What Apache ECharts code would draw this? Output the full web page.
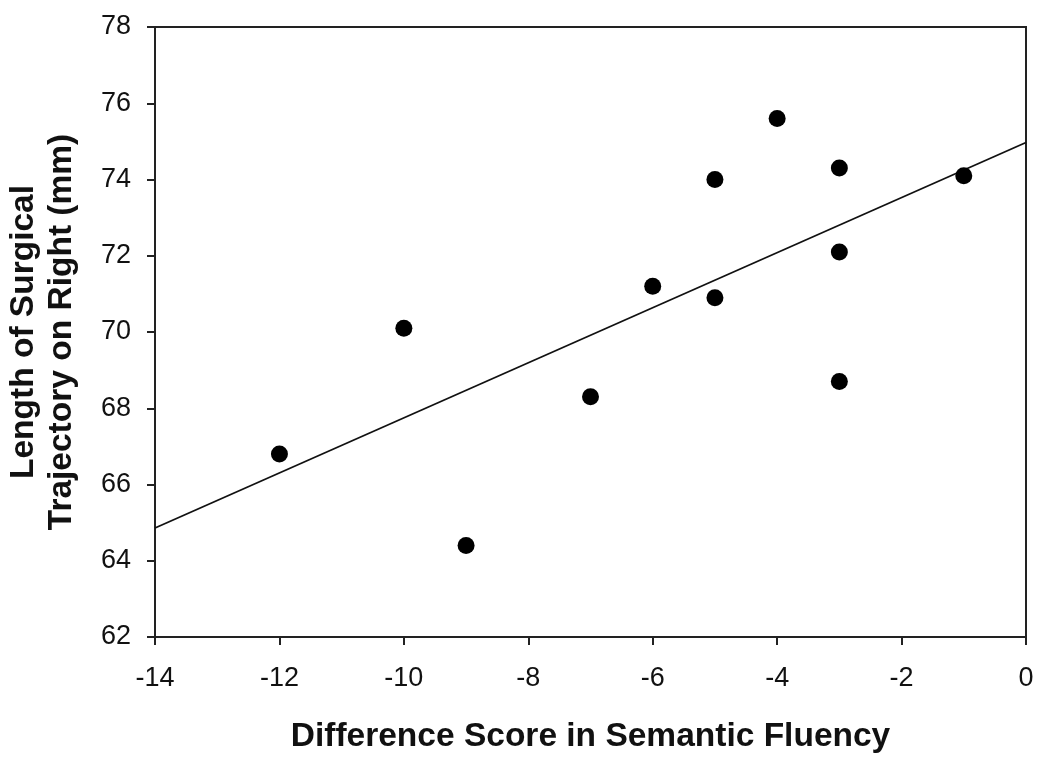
<!DOCTYPE html>
<html>
<head>
<meta charset="utf-8">
<script src="https://cdn.jsdelivr.net/npm/echarts@6/dist/echarts.min.js"></script>
<style>
html,body{margin:0;padding:0;background:#fff;}
#chart{width:1050px;height:757px;}
</style>
</head>
<body>
<div id="chart"></div>
<script>
// Data
const xValues = [-12, -10, -9, -7, -6, -5, -5, -4, -3, -3, -3, -1];
const yValues = [66.8, 70.1, 64.4, 68.3, 71.2, 74.0, 70.9, 75.6, 74.3, 72.1, 68.7, 74.1];
const fitLineX = [-14, 0];
const fitLineY = [64.86, 74.97];
const xTitle = 'Difference Score in Semantic Fluency';
const yTitle = 'Length of Surgical\nTrajectory on Right (mm)';

const points = xValues.map((x, i) => [x, yValues[i]]);
const fit = fitLineX.map((x, i) => [x, fitLineY[i]]);

const chart = echarts.init(document.getElementById('chart'));
const axisFont = 'Liberation Sans, Arial, sans-serif';
chart.setOption({
  backgroundColor: '#ffffff',
  animation: false,
  grid: { left: 155, top: 27, right: 24, bottom: 120, show: true, borderColor: '#222', borderWidth: 2, backgroundColor: 'transparent', containLabel: false, outerBoundsMode: 'none' },
  xAxis: {
    type: 'value', min: -14, max: 0, interval: 2,
    name: xTitle, nameLocation: 'middle', nameGap: 83,
    nameTextStyle: { fontFamily: axisFont, fontWeight: 'bold', fontSize: 33.5, color: '#111' },
    axisLine: { show: true, onZero: false, lineStyle: { color: '#222', width: 2 } },
    axisTick: { show: true, inside: false, length: 8, lineStyle: { color: '#222', width: 2 } },
    axisLabel: { fontFamily: axisFont, fontSize: 27, color: '#111', margin: 28 },
    splitLine: { show: false }
  },
  yAxis: {
    type: 'value', min: 62, max: 78, interval: 2,
    name: yTitle, nameLocation: 'middle', nameGap: 74, nameRotate: 90,
    nameTextStyle: { fontFamily: axisFont, fontWeight: 'bold', fontSize: 33.5, color: '#111', lineHeight: 38 },
    axisLine: { show: true, onZero: false, lineStyle: { color: '#222', width: 2 } },
    axisTick: { show: true, inside: false, length: 8, lineStyle: { color: '#222', width: 2 } },
    axisLabel: { fontFamily: axisFont, fontSize: 27, color: '#111', margin: 24 },
    splitLine: { show: false }
  },
  series: [
    {
      type: 'line', data: fit, showSymbol: false, symbol: 'none',
      lineStyle: { color: '#111', width: 1.8 }, z: 2, silent: true
    },
    {
      type: 'scatter', data: points, symbol: 'circle', symbolSize: 17,
      itemStyle: { color: '#000', opacity: 1 }, z: 3
    }
  ]
});
</script>
</body>
</html>
